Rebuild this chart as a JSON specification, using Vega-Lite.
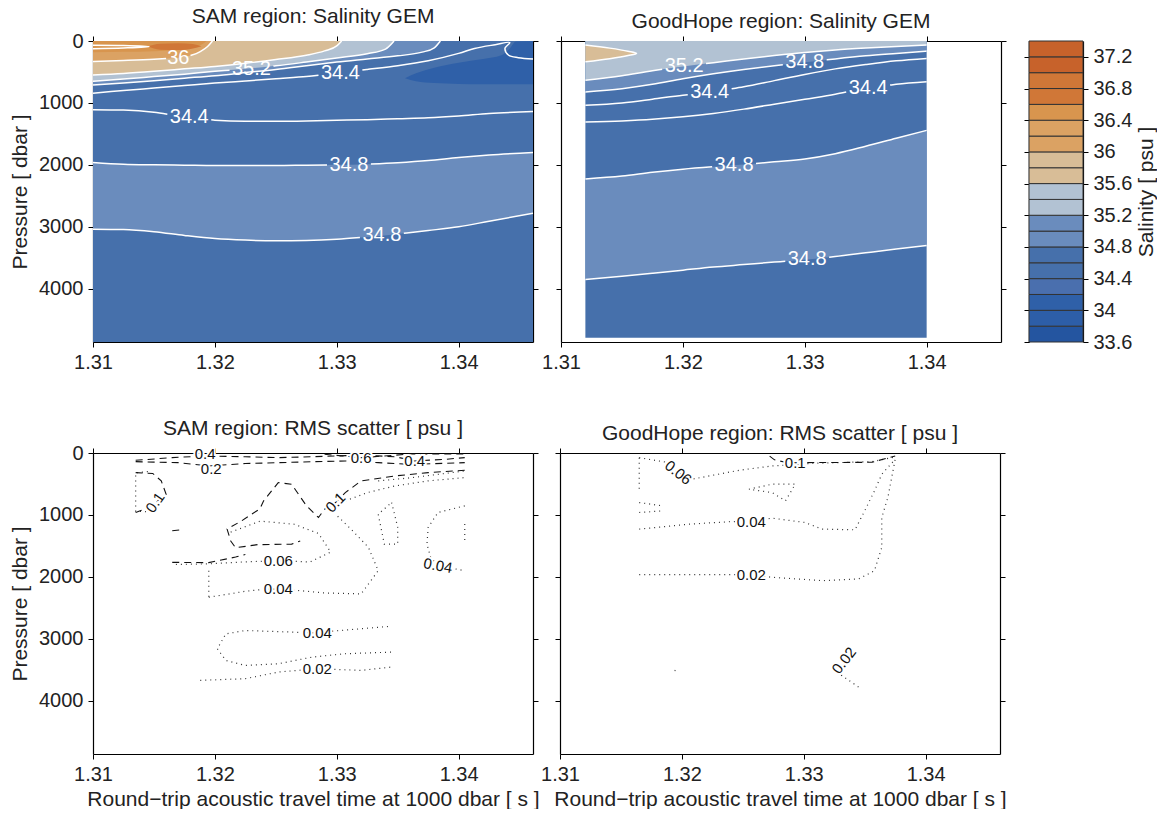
{
"$schema": "https://vega.github.io/schema/vega-lite/v6.json",
"background": "white",
"padding": {"left": 9, "top": 6, "right": 0, "bottom": 0},
"config": {
 "font": "Liberation Sans",
 "view": {"stroke": null},
 "axis": {"domainColor": "#000", "domainWidth": 1.2, "tickColor": "#000", "tickWidth": 1, "tickSize": 5, "labelFontSize": 20, "labelColor": "#222", "labelFont": "Liberation Sans", "titleFont": "Liberation Sans", "titleFontSize": 21, "titleFontWeight": "normal", "titleColor": "#222", "grid": false, "labelPadding": 5, "labelFlush": false, "labelOverlap": false},
 "title": {"fontSize": 21, "fontWeight": "normal", "color": "#222", "font": "Liberation Sans", "offset": 4},
 "text": {"font": "Liberation Sans"},
 "legend": {"disable": true}
},
"datasets": {
 "p1bg": [{"x":1.31,"p":0,"q":4860,"s":34.6},{"x":1.3461,"p":0,"q":4860,"s":34.6}],
 "p1deep": [
  {"x":1.31,"p":1960,"q":3040,"s":34.9},{"x":1.3125,"p":1990,"q":3045,"s":34.9},{"x":1.315,"p":2000,"q":3080,"s":34.9},{"x":1.3175,"p":2005,"q":3140,"s":34.9},{"x":1.32,"p":2010,"q":3190,"s":34.9},{"x":1.3225,"p":2010,"q":3215,"s":34.9},{"x":1.325,"p":2010,"q":3225,"s":34.9},{"x":1.3275,"p":2005,"q":3220,"s":34.9},{"x":1.33,"p":2000,"q":3200,"s":34.9},{"x":1.3325,"p":1990,"q":3165,"s":34.9},{"x":1.335,"p":1965,"q":3115,"s":34.9},{"x":1.3375,"p":1930,"q":3060,"s":34.9},{"x":1.34,"p":1880,"q":3000,"s":34.9},{"x":1.3425,"p":1840,"q":2910,"s":34.9},{"x":1.3461,"p":1800,"q":2780,"s":34.9}],
 "p1dark": [
  {"x":1.3356,"p":600,"q":600,"s":34.1},{"x":1.3365,"p":520,"q":650,"s":34.1},{"x":1.338,"p":430,"q":680,"s":34.1},{"x":1.34,"p":350,"q":695,"s":34.1},{"x":1.342,"p":290,"q":700,"s":34.1},{"x":1.3435,"p":230,"q":700,"s":34.1},{"x":1.3442,"p":120,"q":700,"s":34.1},{"x":1.3447,"p":10,"q":700,"s":34.1},{"x":1.3461,"p":0,"q":700,"s":34.1}],
 "p1tong": [
  {"c":"34.8","s":34.9,"x":1.31,"p":712},{"c":"34.8","s":34.9,"x":1.3125,"p":680},{"c":"34.8","s":34.9,"x":1.315,"p":640},{"c":"34.8","s":34.9,"x":1.3175,"p":600},{"c":"34.8","s":34.9,"x":1.32,"p":560},{"c":"34.8","s":34.9,"x":1.3225,"p":510},{"c":"34.8","s":34.9,"x":1.325,"p":460},{"c":"34.8","s":34.9,"x":1.3275,"p":400},{"c":"34.8","s":34.9,"x":1.33,"p":340},{"c":"34.8","s":34.9,"x":1.3325,"p":290},{"c":"34.8","s":34.9,"x":1.335,"p":240},{"c":"34.8","s":34.9,"x":1.337,"p":180},{"c":"34.8","s":34.9,"x":1.338,"p":110},{"c":"34.8","s":34.9,"x":1.3385,"p":0},
  {"c":"35.2","s":35.3,"x":1.31,"p":650},{"c":"35.2","s":35.3,"x":1.3125,"p":615},{"c":"35.2","s":35.3,"x":1.315,"p":575},{"c":"35.2","s":35.3,"x":1.3175,"p":535},{"c":"35.2","s":35.3,"x":1.32,"p":490},{"c":"35.2","s":35.3,"x":1.3225,"p":450},{"c":"35.2","s":35.3,"x":1.325,"p":400},{"c":"35.2","s":35.3,"x":1.3275,"p":340},{"c":"35.2","s":35.3,"x":1.33,"p":275},{"c":"35.2","s":35.3,"x":1.3325,"p":205},{"c":"35.2","s":35.3,"x":1.334,"p":130},{"c":"35.2","s":35.3,"x":1.3347,"p":0},
  {"c":"35.6","s":35.7,"x":1.31,"p":550},{"c":"35.6","s":35.7,"x":1.3125,"p":525},{"c":"35.6","s":35.7,"x":1.315,"p":490},{"c":"35.6","s":35.7,"x":1.3175,"p":450},{"c":"35.6","s":35.7,"x":1.32,"p":410},{"c":"35.6","s":35.7,"x":1.3225,"p":360},{"c":"35.6","s":35.7,"x":1.325,"p":300},{"c":"35.6","s":35.7,"x":1.3275,"p":230},{"c":"35.6","s":35.7,"x":1.329,"p":160},{"c":"35.6","s":35.7,"x":1.33,"p":80},{"c":"35.6","s":35.7,"x":1.3304,"p":0},
  {"c":"36.0","s":36.1,"x":1.31,"p":330},{"c":"36.0","s":36.1,"x":1.3125,"p":315},{"c":"36.0","s":36.1,"x":1.315,"p":295},{"c":"36.0","s":36.1,"x":1.317,"p":270},{"c":"36.0","s":36.1,"x":1.318,"p":235},{"c":"36.0","s":36.1,"x":1.3188,"p":170},{"c":"36.0","s":36.1,"x":1.3194,"p":90},{"c":"36.0","s":36.1,"x":1.3198,"p":0},
  {"c":"36.4","s":36.5,"x":1.31,"p":180},{"c":"36.4","s":36.5,"x":1.3125,"p":175},{"c":"36.4","s":36.5,"x":1.315,"p":165},{"c":"36.4","s":36.5,"x":1.317,"p":145},{"c":"36.4","s":36.5,"x":1.3182,"p":105},{"c":"36.4","s":36.5,"x":1.319,"p":50},{"c":"36.4","s":36.5,"x":1.3193,"p":0}],
 "p1blob": [{"x":1.3145,"p":90,"q":90,"s":36.9},{"x":1.3155,"p":45,"q":140,"s":36.9},{"x":1.317,"p":35,"q":145,"s":36.9},{"x":1.3182,"p":50,"q":120,"s":36.9},{"x":1.3189,"p":85,"q":85,"s":36.9}],
 "p1Lm": [
  {"id":"t348","x":1.31,"p":712},{"id":"t348","x":1.3125,"p":680},{"id":"t348","x":1.315,"p":640},{"id":"t348","x":1.3175,"p":600},{"id":"t348","x":1.32,"p":560},{"id":"t348","x":1.3225,"p":510},{"id":"t348","x":1.325,"p":460},{"id":"t348","x":1.3275,"p":400},{"id":"t348","x":1.33,"p":340},{"id":"t348","x":1.3325,"p":290},{"id":"t348","x":1.335,"p":240},{"id":"t348","x":1.337,"p":180},{"id":"t348","x":1.338,"p":110},{"id":"t348","x":1.3385,"p":0},
  {"id":"t352a","x":1.31,"p":650},{"id":"t352a","x":1.3125,"p":615},{"id":"t352a","x":1.315,"p":575},{"id":"t352a","x":1.3175,"p":535},{"id":"t352a","x":1.32,"p":490},{"id":"t352a","x":1.3212,"p":471},
  {"id":"t352b","x":1.3248,"p":404},{"id":"t352b","x":1.325,"p":400},{"id":"t352b","x":1.3275,"p":340},{"id":"t352b","x":1.33,"p":275},{"id":"t352b","x":1.3325,"p":205},{"id":"t352b","x":1.334,"p":130},{"id":"t352b","x":1.3347,"p":0},
  {"id":"t356","x":1.31,"p":550},{"id":"t356","x":1.3125,"p":525},{"id":"t356","x":1.315,"p":490},{"id":"t356","x":1.3175,"p":450},{"id":"t356","x":1.32,"p":410},{"id":"t356","x":1.3225,"p":360},{"id":"t356","x":1.325,"p":300},{"id":"t356","x":1.3275,"p":230},{"id":"t356","x":1.329,"p":160},{"id":"t356","x":1.33,"p":80},{"id":"t356","x":1.3304,"p":0},
  {"id":"t36a","x":1.31,"p":330},{"id":"t36a","x":1.3125,"p":315},{"id":"t36a","x":1.315,"p":295},{"id":"t36a","x":1.316,"p":283},
  {"id":"t36b","x":1.318,"p":235},{"id":"t36b","x":1.3188,"p":170},{"id":"t36b","x":1.3194,"p":90},{"id":"t36b","x":1.3198,"p":0},
  {"id":"d1a","x":1.31,"p":1960},{"id":"d1a","x":1.3125,"p":1990},{"id":"d1a","x":1.315,"p":2000},{"id":"d1a","x":1.3175,"p":2005},{"id":"d1a","x":1.32,"p":2010},{"id":"d1a","x":1.3225,"p":2010},{"id":"d1a","x":1.325,"p":2010},{"id":"d1a","x":1.3275,"p":2005},{"id":"d1a","x":1.3292,"p":2002},
  {"id":"d1b","x":1.3328,"p":1987},{"id":"d1b","x":1.335,"p":1965},{"id":"d1b","x":1.3375,"p":1930},{"id":"d1b","x":1.34,"p":1880},{"id":"d1b","x":1.3425,"p":1840},{"id":"d1b","x":1.3461,"p":1800},
  {"id":"d2a","x":1.31,"p":3040},{"id":"d2a","x":1.3125,"p":3045},{"id":"d2a","x":1.315,"p":3080},{"id":"d2a","x":1.3175,"p":3140},{"id":"d2a","x":1.32,"p":3190},{"id":"d2a","x":1.3225,"p":3215},{"id":"d2a","x":1.325,"p":3225},{"id":"d2a","x":1.3275,"p":3220},{"id":"d2a","x":1.33,"p":3200},{"id":"d2a","x":1.3319,"p":3173},
  {"id":"d2b","x":1.3355,"p":3104},{"id":"d2b","x":1.3375,"p":3060},{"id":"d2b","x":1.34,"p":3000},{"id":"d2b","x":1.3425,"p":2910},{"id":"d2b","x":1.3461,"p":2780},
  {"id":"la","x":1.31,"p":1110},{"id":"la","x":1.3125,"p":1115},{"id":"la","x":1.315,"p":1150},{"id":"la","x":1.3161,"p":1181},
  {"id":"lb","x":1.3197,"p":1273},{"id":"lb","x":1.32,"p":1280},{"id":"lb","x":1.3225,"p":1295},{"id":"lb","x":1.325,"p":1295},{"id":"lb","x":1.3275,"p":1290},{"id":"lb","x":1.33,"p":1280},{"id":"lb","x":1.3325,"p":1270},{"id":"lb","x":1.335,"p":1255},{"id":"lb","x":1.3375,"p":1240},{"id":"lb","x":1.34,"p":1210},{"id":"lb","x":1.3425,"p":1170},{"id":"lb","x":1.3461,"p":1140}],
 "p1Lc": [
  {"id":"ua","x":1.31,"p":842},{"id":"ua","x":1.3125,"p":800},{"id":"ua","x":1.315,"p":760},{"id":"ua","x":1.3175,"p":720},{"id":"ua","x":1.32,"p":680},{"id":"ua","x":1.3225,"p":645},{"id":"ua","x":1.325,"p":610},{"id":"ua","x":1.3275,"p":575},{"id":"ua","x":1.3285,"p":553},
  {"id":"ub","x":1.3321,"p":470},{"id":"ub","x":1.3325,"p":460},{"id":"ub","x":1.335,"p":400},{"id":"ub","x":1.3375,"p":320},{"id":"ub","x":1.34,"p":200},{"id":"ub","x":1.3413,"p":120},{"id":"ub","x":1.343,"p":60},{"id":"ub","x":1.3442,"p":25},{"id":"ub","x":1.3438,"p":120},{"id":"ub","x":1.3441,"p":230},{"id":"ub","x":1.3449,"p":270},{"id":"ub","x":1.3461,"p":290},
  {"id":"s","x":1.31,"p":70},{"id":"s","x":1.3125,"p":74},{"id":"s","x":1.3146,"p":92},{"id":"s","x":1.3125,"p":112},{"id":"s","x":1.31,"p":124}],
 "p1lab": [{"x":1.317,"p":270,"t":"36"},{"x":1.323,"p":450,"t":"35.2"},{"x":1.3303,"p":520,"t":"34.4"},{"x":1.3179,"p":1230,"t":"34.4"},{"x":1.331,"p":1995,"t":"34.8"},{"x":1.3337,"p":3140,"t":"34.8"}],
 "p2bg": [{"x":1.312,"p":0,"q":4790,"s":34.6},{"x":1.34,"p":0,"q":4790,"s":34.6}],
 "p2deep": [
  {"x":1.312,"p":2227,"q":3850,"s":34.9},{"x":1.315,"p":2180,"q":3800,"s":34.9},{"x":1.3175,"p":2120,"q":3750,"s":34.9},{"x":1.32,"p":2070,"q":3700,"s":34.9},{"x":1.3225,"p":2030,"q":3650,"s":34.9},{"x":1.325,"p":1995,"q":3610,"s":34.9},{"x":1.3275,"p":1950,"q":3570,"s":34.9},{"x":1.33,"p":1905,"q":3530,"s":34.9},{"x":1.3325,"p":1820,"q":3480,"s":34.9},{"x":1.335,"p":1700,"q":3420,"s":34.9},{"x":1.3375,"p":1570,"q":3360,"s":34.9},{"x":1.34,"p":1443,"q":3300,"s":34.9}],
 "p2t": [
  {"c":"34.8","s":34.9,"x":1.312,"p":822},{"c":"34.8","s":34.9,"x":1.315,"p":770},{"c":"34.8","s":34.9,"x":1.3175,"p":700},{"c":"34.8","s":34.9,"x":1.32,"p":610},{"c":"34.8","s":34.9,"x":1.3225,"p":530},{"c":"34.8","s":34.9,"x":1.325,"p":460},{"c":"34.8","s":34.9,"x":1.3275,"p":400},{"c":"34.8","s":34.9,"x":1.33,"p":345},{"c":"34.8","s":34.9,"x":1.3325,"p":290},{"c":"34.8","s":34.9,"x":1.335,"p":240},{"c":"34.8","s":34.9,"x":1.3375,"p":200},{"c":"34.8","s":34.9,"x":1.34,"p":162},
  {"c":"35.2","s":35.3,"x":1.312,"p":632},{"c":"35.2","s":35.3,"x":1.315,"p":560},{"c":"35.2","s":35.3,"x":1.3175,"p":480},{"c":"35.2","s":35.3,"x":1.32,"p":410},{"c":"35.2","s":35.3,"x":1.3225,"p":350},{"c":"35.2","s":35.3,"x":1.325,"p":290},{"c":"35.2","s":35.3,"x":1.3275,"p":235},{"c":"35.2","s":35.3,"x":1.33,"p":185},{"c":"35.2","s":35.3,"x":1.3325,"p":145},{"c":"35.2","s":35.3,"x":1.335,"p":115},{"c":"35.2","s":35.3,"x":1.3375,"p":90},{"c":"35.2","s":35.3,"x":1.34,"p":65}],
 "p2sliver": [{"x":1.312,"p":65,"q":335,"s":35.7},{"x":1.314,"p":115,"q":285,"s":35.7},{"x":1.3155,"p":165,"q":235,"s":35.7},{"x":1.3162,"p":200,"q":200,"s":35.7}],
 "p2Lm": [
  {"id":"t348a","x":1.312,"p":822},{"id":"t348a","x":1.315,"p":770},{"id":"t348a","x":1.3175,"p":700},{"id":"t348a","x":1.32,"p":610},{"id":"t348a","x":1.3225,"p":530},{"id":"t348a","x":1.325,"p":460},{"id":"t348a","x":1.3275,"p":400},{"id":"t348a","x":1.3282,"p":385},
  {"id":"t348b","x":1.3318,"p":305},{"id":"t348b","x":1.3325,"p":290},{"id":"t348b","x":1.335,"p":240},{"id":"t348b","x":1.3375,"p":200},{"id":"t348b","x":1.34,"p":162},
  {"id":"t352a","x":1.312,"p":632},{"id":"t352a","x":1.315,"p":560},{"id":"t352a","x":1.3175,"p":480},{"id":"t352a","x":1.3183,"p":458},
  {"id":"t352b","x":1.3219,"p":364},{"id":"t352b","x":1.3225,"p":350},{"id":"t352b","x":1.325,"p":290},{"id":"t352b","x":1.3275,"p":235},{"id":"t352b","x":1.33,"p":185},{"id":"t352b","x":1.3325,"p":145},{"id":"t352b","x":1.335,"p":115},{"id":"t352b","x":1.3375,"p":90},{"id":"t352b","x":1.34,"p":65},
  {"id":"ua","x":1.312,"p":1038},{"id":"ua","x":1.315,"p":1000},{"id":"ua","x":1.3175,"p":940},{"id":"ua","x":1.32,"p":875},{"id":"ua","x":1.3204,"p":867},
  {"id":"ub","x":1.324,"p":773},{"id":"ub","x":1.325,"p":740},{"id":"ub","x":1.3275,"p":640},{"id":"ub","x":1.33,"p":540},{"id":"ub","x":1.3325,"p":450},{"id":"ub","x":1.335,"p":380},{"id":"ub","x":1.3375,"p":320},{"id":"ub","x":1.34,"p":281},
  {"id":"la","x":1.312,"p":1308},{"id":"la","x":1.315,"p":1290},{"id":"la","x":1.3175,"p":1265},{"id":"la","x":1.32,"p":1225},{"id":"la","x":1.3225,"p":1170},{"id":"la","x":1.325,"p":1100},{"id":"la","x":1.3275,"p":1020},{"id":"la","x":1.33,"p":940},{"id":"la","x":1.3325,"p":860},{"id":"la","x":1.3334,"p":824},
  {"id":"lb","x":1.337,"p":712},{"id":"lb","x":1.3375,"p":700},{"id":"lb","x":1.34,"p":659},
  {"id":"d1a","x":1.312,"p":2227},{"id":"d1a","x":1.315,"p":2180},{"id":"d1a","x":1.3175,"p":2120},{"id":"d1a","x":1.32,"p":2070},{"id":"d1a","x":1.3224,"p":2032},
  {"id":"d1b","x":1.326,"p":1977},{"id":"d1b","x":1.3275,"p":1950},{"id":"d1b","x":1.33,"p":1905},{"id":"d1b","x":1.3325,"p":1820},{"id":"d1b","x":1.335,"p":1700},{"id":"d1b","x":1.3375,"p":1570},{"id":"d1b","x":1.34,"p":1443},
  {"id":"d2a","x":1.312,"p":3850},{"id":"d2a","x":1.315,"p":3800},{"id":"d2a","x":1.3175,"p":3750},{"id":"d2a","x":1.32,"p":3700},{"id":"d2a","x":1.3225,"p":3650},{"id":"d2a","x":1.325,"p":3610},{"id":"d2a","x":1.3275,"p":3570},{"id":"d2a","x":1.3284,"p":3556},
  {"id":"d2b","x":1.332,"p":3490},{"id":"d2b","x":1.3325,"p":3480},{"id":"d2b","x":1.335,"p":3420},{"id":"d2b","x":1.3375,"p":3360},{"id":"d2b","x":1.34,"p":3300}],
 "p2Lc": [
  {"id":"sl","x":1.312,"p":65},{"id":"sl","x":1.314,"p":115},{"id":"sl","x":1.3155,"p":165},{"id":"sl","x":1.3162,"p":200},{"id":"sl","x":1.3155,"p":235},{"id":"sl","x":1.314,"p":285},{"id":"sl","x":1.312,"p":335}],
 "p2lab": [{"x":1.3201,"p":405,"t":"35.2"},{"x":1.33,"p":345,"t":"34.8"},{"x":1.3222,"p":822,"t":"34.4"},{"x":1.3352,"p":755,"t":"34.4"},{"x":1.3242,"p":2006,"t":"34.8"},{"x":1.3302,"p":3526,"t":"34.8"}],
 "cb": [{"lo":33.6,"hi":33.8},{"lo":33.8,"hi":34},{"lo":34,"hi":34.2},{"lo":34.2,"hi":34.4},{"lo":34.4,"hi":34.6},{"lo":34.6,"hi":34.8},{"lo":34.8,"hi":35},{"lo":35,"hi":35.2},{"lo":35.2,"hi":35.4},{"lo":35.4,"hi":35.6},{"lo":35.6,"hi":35.8},{"lo":35.8,"hi":36},{"lo":36,"hi":36.2},{"lo":36.2,"hi":36.4},{"lo":36.4,"hi":36.6},{"lo":36.6,"hi":36.8},{"lo":36.8,"hi":37},{"lo":37,"hi":37.2},{"lo":37.2,"hi":37.4}],
 "p3": [
  {"id":"a","lev":0.2,"x":1.3135,"p":140},{"id":"a","lev":0.2,"x":1.317,"p":156},{"id":"a","lev":0.2,"x":1.3195,"p":209},{"id":"a","lev":0.2,"x":1.3225,"p":170},{"id":"a","lev":0.2,"x":1.3252,"p":156},{"id":"a","lev":0.2,"x":1.328,"p":140},{"id":"a","lev":0.2,"x":1.3307,"p":129},{"id":"a","lev":0.2,"x":1.3334,"p":156},{"id":"a","lev":0.2,"x":1.3361,"p":183},{"id":"a","lev":0.2,"x":1.3405,"p":156},
  {"id":"b","lev":0.4,"x":1.3135,"p":118},{"id":"b","lev":0.4,"x":1.3165,"p":75},{"id":"b","lev":0.4,"x":1.3192,"p":48},{"id":"b","lev":0.4,"x":1.3225,"p":60},{"id":"b","lev":0.4,"x":1.3252,"p":75},{"id":"b","lev":0.4,"x":1.328,"p":60},{"id":"b","lev":0.4,"x":1.33,"p":48},{"id":"b","lev":0.4,"x":1.332,"p":35},{"id":"b","lev":0.4,"x":1.3348,"p":60},{"id":"b","lev":0.4,"x":1.3364,"p":129},{"id":"b","lev":0.4,"x":1.3389,"p":102},{"id":"b","lev":0.4,"x":1.3405,"p":75},
  {"id":"c","lev":0.6,"x":1.329,"p":21},{"id":"c","lev":0.6,"x":1.332,"p":75},{"id":"c","lev":0.6,"x":1.3348,"p":35},{"id":"c","lev":0.6,"x":1.3361,"p":15},{"id":"c","lev":0.6,"x":1.3405,"p":15},
  {"id":"d","lev":0.1,"x":1.3135,"p":317},{"id":"d","lev":0.1,"x":1.3149,"p":330},{"id":"d","lev":0.1,"x":1.3156,"p":451},{"id":"d","lev":0.1,"x":1.316,"p":665},{"id":"d","lev":0.1,"x":1.3151,"p":800},{"id":"d","lev":0.1,"x":1.3143,"p":900},{"id":"d","lev":0.1,"x":1.3135,"p":961},
  {"id":"e","lev":0.1,"x":1.3405,"p":279},{"id":"e","lev":0.1,"x":1.3375,"p":317},{"id":"e","lev":0.1,"x":1.3348,"p":370},{"id":"e","lev":0.1,"x":1.332,"p":451},{"id":"e","lev":0.1,"x":1.3307,"p":639},{"id":"e","lev":0.1,"x":1.3299,"p":800},{"id":"e","lev":0.1,"x":1.329,"p":907},{"id":"e","lev":0.1,"x":1.3285,"p":1041},{"id":"e","lev":0.1,"x":1.3275,"p":850},{"id":"e","lev":0.1,"x":1.3263,"p":505},{"id":"e","lev":0.1,"x":1.3252,"p":478},{"id":"e","lev":0.1,"x":1.324,"p":773},{"id":"e","lev":0.1,"x":1.3237,"p":900},{"id":"e","lev":0.1,"x":1.3222,"p":1095},{"id":"e","lev":0.1,"x":1.321,"p":1229},{"id":"e","lev":0.1,"x":1.3213,"p":1420},{"id":"e","lev":0.1,"x":1.3217,"p":1530},{"id":"e","lev":0.1,"x":1.3235,"p":1480},{"id":"e","lev":0.1,"x":1.3263,"p":1471},{"id":"e","lev":0.1,"x":1.327,"p":1420},
  {"id":"f","lev":0.1,"x":1.3165,"p":1766},{"id":"f","lev":0.1,"x":1.3195,"p":1770},{"id":"f","lev":0.1,"x":1.3217,"p":1680},{"id":"f","lev":0.1,"x":1.3225,"p":1640},
  {"id":"g","lev":0.1,"x":1.3165,"p":1256},{"id":"g","lev":0.1,"x":1.3172,"p":1240},
  {"id":"h","lev":0.05,"x":1.3145,"p":300},{"id":"h","lev":0.05,"x":1.3135,"p":320},{"id":"h","lev":0.05,"x":1.3135,"p":940},{"id":"h","lev":0.05,"x":1.3145,"p":950},
  {"id":"i","lev":0.08,"x":1.3334,"p":451},{"id":"i","lev":0.08,"x":1.3361,"p":400},{"id":"i","lev":0.08,"x":1.3389,"p":330},{"id":"i","lev":0.08,"x":1.3405,"p":290},
  {"id":"j","lev":0.08,"x":1.3307,"p":773},{"id":"j","lev":0.08,"x":1.3325,"p":640},{"id":"j","lev":0.08,"x":1.3348,"p":531},{"id":"j","lev":0.08,"x":1.3375,"p":450},{"id":"j","lev":0.08,"x":1.3405,"p":397},
  {"id":"k","lev":0.06,"x":1.3345,"p":800},{"id":"k","lev":0.06,"x":1.335,"p":1200},{"id":"k","lev":0.06,"x":1.335,"p":1471},{"id":"k","lev":0.06,"x":1.3339,"p":1471},{"id":"k","lev":0.06,"x":1.3334,"p":988},{"id":"k","lev":0.06,"x":1.3345,"p":800},
  {"id":"l","lev":0.06,"x":1.3168,"p":1800},{"id":"l","lev":0.06,"x":1.3195,"p":1790},{"id":"l","lev":0.06,"x":1.3222,"p":1760},{"id":"l","lev":0.06,"x":1.3252,"p":1739},{"id":"l","lev":0.06,"x":1.3278,"p":1760},{"id":"l","lev":0.06,"x":1.3295,"p":1600},{"id":"l","lev":0.06,"x":1.3285,"p":1300},{"id":"l","lev":0.06,"x":1.3265,"p":1150},{"id":"l","lev":0.06,"x":1.3237,"p":1100},{"id":"l","lev":0.06,"x":1.321,"p":1300},
  {"id":"m","lev":0.04,"x":1.3195,"p":2329},{"id":"m","lev":0.04,"x":1.3225,"p":2233},{"id":"m","lev":0.04,"x":1.3241,"p":2200},{"id":"m","lev":0.04,"x":1.3252,"p":2195},{"id":"m","lev":0.04,"x":1.3263,"p":2210},{"id":"m","lev":0.04,"x":1.329,"p":2260},{"id":"m","lev":0.04,"x":1.332,"p":2275},{"id":"m","lev":0.04,"x":1.3334,"p":1900},{"id":"m","lev":0.04,"x":1.3326,"p":1524},{"id":"m","lev":0.04,"x":1.3313,"p":1256},{"id":"m","lev":0.04,"x":1.3299,"p":988},
  {"id":"n","lev":0.04,"x":1.3195,"p":1900},{"id":"n","lev":0.04,"x":1.3195,"p":2329},
  {"id":"o","lev":0.04,"x":1.3405,"p":853},{"id":"o","lev":0.04,"x":1.3383,"p":961},{"id":"o","lev":0.04,"x":1.3375,"p":1202},{"id":"o","lev":0.04,"x":1.3374,"p":1471},{"id":"o","lev":0.04,"x":1.3377,"p":1686},{"id":"o","lev":0.04,"x":1.3383,"p":1820},{"id":"o","lev":0.04,"x":1.3405,"p":1900},
  {"id":"o2","lev":0.04,"x":1.3405,"p":1148},{"id":"o2","lev":0.04,"x":1.3405,"p":1443},
  {"id":"pp","lev":0.04,"x":1.3342,"p":2801},{"id":"pp","lev":0.04,"x":1.328,"p":2903},{"id":"pp","lev":0.04,"x":1.3225,"p":2866},{"id":"pp","lev":0.04,"x":1.3209,"p":2920},{"id":"pp","lev":0.04,"x":1.3202,"p":3161},{"id":"pp","lev":0.04,"x":1.3209,"p":3349},{"id":"pp","lev":0.04,"x":1.3225,"p":3430},{"id":"pp","lev":0.04,"x":1.3252,"p":3403},{"id":"pp","lev":0.04,"x":1.328,"p":3295},{"id":"pp","lev":0.04,"x":1.3307,"p":3241},{"id":"pp","lev":0.04,"x":1.3345,"p":3215},
  {"id":"q","lev":0.02,"x":1.3188,"p":3671},{"id":"q","lev":0.02,"x":1.3225,"p":3644},{"id":"q","lev":0.02,"x":1.3252,"p":3537},{"id":"q","lev":0.02,"x":1.3284,"p":3483},{"id":"q","lev":0.02,"x":1.332,"p":3510},{"id":"q","lev":0.02,"x":1.3345,"p":3456}],
 "p3lab": [{"x":1.3192,"p":15,"t":"0.4"},{"x":1.3197,"p":255,"t":"0.2"},{"x":1.332,"p":75,"t":"0.6"},{"x":1.3364,"p":129,"t":"0.4"},{"x":1.3252,"p":1739,"t":"0.06"},{"x":1.3252,"p":2195,"t":"0.04"},{"x":1.3284,"p":2903,"t":"0.04"},{"x":1.3284,"p":3483,"t":"0.02"}],
 "p4": [
  {"id":"a","lev":0.1,"x":1.3272,"p":50},{"id":"a","lev":0.1,"x":1.3276,"p":110},{"id":"a","lev":0.1,"x":1.3285,"p":150},{"id":"a","lev":0.1,"x":1.3293,"p":156},
  {"id":"b","lev":0.1,"x":1.3293,"p":156},{"id":"b","lev":0.1,"x":1.3356,"p":150},{"id":"b","lev":0.1,"x":1.3375,"p":48},
  {"id":"c","lev":0.06,"x":1.3165,"p":75},{"id":"c","lev":0.06,"x":1.3186,"p":145},{"id":"c","lev":0.06,"x":1.3197,"p":317},{"id":"c","lev":0.06,"x":1.3208,"p":424},{"id":"c","lev":0.06,"x":1.3247,"p":279},{"id":"c","lev":0.06,"x":1.3274,"p":209},{"id":"c","lev":0.06,"x":1.3309,"p":166},{"id":"c","lev":0.06,"x":1.3356,"p":140},{"id":"c","lev":0.06,"x":1.3375,"p":64},
  {"id":"d","lev":0.06,"x":1.3165,"p":75},{"id":"d","lev":0.06,"x":1.3165,"p":585},
  {"id":"e","lev":0.05,"x":1.3165,"p":800},{"id":"e","lev":0.05,"x":1.3184,"p":853},
  {"id":"e2","lev":0.05,"x":1.3165,"p":961},{"id":"e2","lev":0.05,"x":1.3184,"p":934},
  {"id":"f","lev":0.05,"x":1.3255,"p":585},{"id":"f","lev":0.05,"x":1.3274,"p":504},{"id":"f","lev":0.05,"x":1.3293,"p":504},{"id":"f","lev":0.05,"x":1.3285,"p":773},{"id":"f","lev":0.05,"x":1.3274,"p":639},{"id":"f","lev":0.05,"x":1.3255,"p":585},
  {"id":"g","lev":0.04,"x":1.3165,"p":1229},{"id":"g","lev":0.04,"x":1.3206,"p":1149},{"id":"g","lev":0.04,"x":1.3241,"p":1107},{"id":"g","lev":0.04,"x":1.3255,"p":1107},{"id":"g","lev":0.04,"x":1.3274,"p":1052},{"id":"g","lev":0.04,"x":1.3301,"p":1122},{"id":"g","lev":0.04,"x":1.3315,"p":1229},{"id":"g","lev":0.04,"x":1.3342,"p":1240},{"id":"g","lev":0.04,"x":1.335,"p":934},{"id":"g","lev":0.04,"x":1.3358,"p":612},{"id":"g","lev":0.04,"x":1.3364,"p":344},{"id":"g","lev":0.04,"x":1.3375,"p":102},
  {"id":"h","lev":0.02,"x":1.3165,"p":1964},{"id":"h","lev":0.02,"x":1.3241,"p":1964},{"id":"h","lev":0.02,"x":1.3255,"p":1964},{"id":"h","lev":0.02,"x":1.3274,"p":2007},{"id":"h","lev":0.02,"x":1.3315,"p":2061},{"id":"h","lev":0.02,"x":1.3345,"p":2034},{"id":"h","lev":0.02,"x":1.3358,"p":1900},{"id":"h","lev":0.02,"x":1.3364,"p":1524},{"id":"h","lev":0.02,"x":1.3364,"p":1041},{"id":"h","lev":0.02,"x":1.3369,"p":719},{"id":"h","lev":0.02,"x":1.3375,"p":102},
  {"id":"i","lev":0.02,"x":1.3194,"p":3510},{"id":"i","lev":0.02,"x":1.3197,"p":3530},
  {"id":"j","lev":0.02,"x":1.3342,"p":3215},{"id":"j","lev":0.02,"x":1.3336,"p":3300},{"id":"j","lev":0.02,"x":1.333,"p":3400},{"id":"j","lev":0.02,"x":1.3331,"p":3590},{"id":"j","lev":0.02,"x":1.3345,"p":3780}],
 "p4lab": [{"x":1.3293,"p":156,"t":"0.1"},{"x":1.3257,"p":1107,"t":"0.04"},{"x":1.3257,"p":1964,"t":"0.02"}]
},
"bounds": "flush",
"spacing": 412,
"vconcat": [
 {"hconcat": [
  {"width": 440, "height": 301, "title": "SAM region: Salinity GEM",
   "resolve": {"axis": {"x": "independent", "y": "independent"}},
   "encoding": {
    "x": {"field": "x", "type": "quantitative", "scale": {"domain": [1.31, 1.3461], "nice": false, "zero": false}, "axis": null},
    "y": {"field": "p", "type": "quantitative", "scale": {"domain": [0, 4860], "reverse": true, "nice": false, "zero": false}, "axis": null},
    "color": {"field": "s", "type": "quantitative", "scale": {"type": "threshold", "domain": [33.8,34,34.2,34.4,34.6,34.8,35,35.2,35.4,35.6,35.8,36,36.2,36.4,36.6,36.8,37,37.2], "range": ["#2455a0","#2d5ea8","#2f60a8","#4a6fae","#4670ab","#4670ab","#6a8cbd","#6a8cbd","#b2c2d3","#b2c2d3","#d8bd97","#d8bd97","#dba263","#dba263","#d8954e","#d07737","#d07737","#c7622b","#c7622b"]}}
   },
   "layer": [
    {"data": {"name": "p1bg"}, "mark": {"type": "area"},
     "encoding": {
      "x": {"field": "x", "type": "quantitative", "scale": {"domain": [1.31, 1.3461], "nice": false, "zero": false}, "axis": {"orient": "bottom", "values": [1.31, 1.32, 1.33, 1.34], "format": ".2f", "title": null}},
      "y": {"field": "p", "type": "quantitative", "scale": {"domain": [0, 4860], "reverse": true, "nice": false, "zero": false}, "axis": {"orient": "left", "values": [0, 1000, 2000, 3000, 4000], "format": "d", "title": "Pressure [ dbar ]", "titlePadding": 8}},
      "y2": {"field": "q"}}},
    {"data": {"name": "p1deep"}, "mark": {"type": "area", "interpolate": "monotone"}, "encoding": {"y2": {"field": "q"}}},
    {"data": {"name": "p1dark"}, "mark": {"type": "area", "interpolate": "monotone"}, "encoding": {"y2": {"field": "q"}}},
    {"data": {"name": "p1tong"}, "transform": [{"filter": "datum.c == '34.8'"}], "mark": {"type": "area", "interpolate": "monotone"}, "encoding": {"y2": {"datum": 0}}},
    {"data": {"name": "p1tong"}, "transform": [{"filter": "datum.c == '35.2'"}], "mark": {"type": "area", "interpolate": "monotone"}, "encoding": {"y2": {"datum": 0}}},
    {"data": {"name": "p1tong"}, "transform": [{"filter": "datum.c == '35.6'"}], "mark": {"type": "area", "interpolate": "monotone"}, "encoding": {"y2": {"datum": 0}}},
    {"data": {"name": "p1tong"}, "transform": [{"filter": "datum.c == '36.0'"}], "mark": {"type": "area", "interpolate": "monotone"}, "encoding": {"y2": {"datum": 0}}},
    {"data": {"name": "p1tong"}, "transform": [{"filter": "datum.c == '36.4'"}], "mark": {"type": "area", "interpolate": "monotone"}, "encoding": {"y2": {"datum": 0}}},
    {"data": {"name": "p1blob"}, "mark": {"type": "area", "interpolate": "monotone"}, "encoding": {"y2": {"field": "q"}}},
    {"data": {"name": "p1Lm"}, "mark": {"type": "line", "interpolate": "monotone", "strokeWidth": 1.5},
     "encoding": {
      "x": {"field": "x", "type": "quantitative", "scale": {"domain": [1.31, 1.3461], "nice": false, "zero": false}, "axis": {"orient": "top", "values": [1.31, 1.32, 1.33, 1.34], "labels": false, "title": null}},
      "y": {"field": "p", "type": "quantitative", "scale": {"domain": [0, 4860], "reverse": true, "nice": false, "zero": false}, "axis": {"orient": "right", "values": [0, 1000, 2000, 3000, 4000], "labels": false, "title": null}},
      "color": {"value": "white"},
      "detail": {"field": "id"}, "order": {"value": null}}},
    {"data": {"name": "p1Lc"}, "mark": {"type": "line", "interpolate": "catmull-rom", "strokeWidth": 1.5}, "encoding": {"color": {"value": "white"}, "detail": {"field": "id"}, "order": {"value": null}}},
    {"data": {"name": "p1lab"}, "mark": {"type": "text", "fontSize": 20}, "encoding": {"text": {"field": "t"}, "color": {"value": "white"}}}
   ]},
  {"width": 440, "height": 301, "title": "GoodHope region: Salinity GEM",
   "resolve": {"axis": {"x": "independent", "y": "independent"}},
   "encoding": {
    "x": {"field": "x", "type": "quantitative", "scale": {"domain": [1.31, 1.3461], "nice": false, "zero": false}, "axis": null},
    "y": {"field": "p", "type": "quantitative", "scale": {"domain": [0, 4860], "reverse": true, "nice": false, "zero": false}, "axis": null},
    "color": {"field": "s", "type": "quantitative", "scale": {"type": "threshold", "domain": [33.8,34,34.2,34.4,34.6,34.8,35,35.2,35.4,35.6,35.8,36,36.2,36.4,36.6,36.8,37,37.2], "range": ["#2455a0","#2d5ea8","#2f60a8","#4a6fae","#4670ab","#4670ab","#6a8cbd","#6a8cbd","#b2c2d3","#b2c2d3","#d8bd97","#d8bd97","#dba263","#dba263","#d8954e","#d07737","#d07737","#c7622b","#c7622b"]}}
   },
   "layer": [
    {"data": {"name": "p2bg"}, "mark": {"type": "area"},
     "encoding": {
      "x": {"field": "x", "type": "quantitative", "scale": {"domain": [1.31, 1.3461], "nice": false, "zero": false}, "axis": {"orient": "bottom", "values": [1.31, 1.32, 1.33, 1.34], "format": ".2f", "title": null}},
      "y": {"field": "p", "type": "quantitative", "scale": {"domain": [0, 4860], "reverse": true, "nice": false, "zero": false}, "axis": {"orient": "left", "values": [0, 1000, 2000, 3000, 4000], "labels": false, "title": null}},
      "y2": {"field": "q"}}},
    {"data": {"name": "p2deep"}, "mark": {"type": "area", "interpolate": "monotone"}, "encoding": {"y2": {"field": "q"}}},
    {"data": {"name": "p2t"}, "transform": [{"filter": "datum.c == '34.8'"}], "mark": {"type": "area", "interpolate": "monotone"}, "encoding": {"y2": {"datum": 0}}},
    {"data": {"name": "p2t"}, "transform": [{"filter": "datum.c == '35.2'"}], "mark": {"type": "area", "interpolate": "monotone"}, "encoding": {"y2": {"datum": 0}}},
    {"data": {"name": "p2sliver"}, "mark": {"type": "area", "interpolate": "monotone"}, "encoding": {"y2": {"field": "q"}}},
    {"data": {"name": "p2Lm"}, "mark": {"type": "line", "interpolate": "monotone", "strokeWidth": 1.5},
     "encoding": {
      "x": {"field": "x", "type": "quantitative", "scale": {"domain": [1.31, 1.3461], "nice": false, "zero": false}, "axis": {"orient": "top", "values": [1.31, 1.32, 1.33, 1.34], "labels": false, "title": null}},
      "y": {"field": "p", "type": "quantitative", "scale": {"domain": [0, 4860], "reverse": true, "nice": false, "zero": false}, "axis": {"orient": "right", "values": [0, 1000, 2000, 3000, 4000], "labels": false, "title": null}},
      "color": {"value": "white"},
      "detail": {"field": "id"}, "order": {"value": null}}},
    {"data": {"name": "p2Lc"}, "mark": {"type": "line", "interpolate": "catmull-rom", "strokeWidth": 1.5}, "encoding": {"color": {"value": "white"}, "detail": {"field": "id"}, "order": {"value": null}}},
    {"data": {"name": "p2lab"}, "mark": {"type": "text", "fontSize": 20}, "encoding": {"text": {"field": "t"}, "color": {"value": "white"}}}
   ]},
  {"width": 54, "height": 301, "data": {"name": "cb"},
   "resolve": {"axis": {"y": "independent"}},
   "encoding": {
    "x": {"datum": 0, "type": "quantitative", "scale": {"domain": [0, 1], "nice": false, "zero": false}, "axis": null},
    "x2": {"datum": 1}
   },
   "layer": [
    {"mark": {"type": "rect", "stroke": "#333", "strokeWidth": 1},
     "encoding": {
      "y": {"field": "lo", "type": "quantitative", "scale": {"domain": [33.6, 37.4], "nice": false, "zero": false}, "axis": {"orient": "right", "values": [33.6, 34, 34.4, 34.8, 35.2, 35.6, 36, 36.4, 36.8, 37.2], "format": "~g", "title": "Salinity [ psu ]", "titleAngle": 270, "titleBaseline": "top", "titlePadding": 4}},
      "y2": {"field": "hi"},
      "color": {"field": "lo", "type": "quantitative", "scale": {"type": "threshold", "domain": [33.8,34,34.2,34.4,34.6,34.8,35,35.2,35.4,35.6,35.8,36,36.2,36.4,36.6,36.8,37,37.2], "range": ["#2455a0","#2d5ea8","#2f60a8","#4a6fae","#4670ab","#4670ab","#6a8cbd","#6a8cbd","#b2c2d3","#b2c2d3","#d8bd97","#d8bd97","#dba263","#dba263","#d8954e","#d07737","#d07737","#c7622b","#c7622b"]}}}},
    {"mark": {"type": "rect", "opacity": 0},
     "encoding": {
      "y": {"field": "lo", "type": "quantitative", "scale": {"domain": [33.6, 37.4], "nice": false, "zero": false}, "axis": {"orient": "left", "values": [33.6, 34, 34.4, 34.8, 35.2, 35.6, 36, 36.4, 36.8, 37.2], "labels": false, "title": null}},
      "y2": {"field": "hi"}}}
   ]}
 ], "spacing": 28, "bounds": "flush"},
 {"hconcat": [
  {"width": 440, "height": 301, "title": "SAM region: RMS scatter [ psu ]", "data": {"name": "p3"},
   "resolve": {"axis": {"x": "independent", "y": "independent"}},
   "encoding": {
    "x": {"field": "x", "type": "quantitative", "scale": {"domain": [1.31, 1.3461], "nice": false, "zero": false}, "axis": null},
    "y": {"field": "p", "type": "quantitative", "scale": {"domain": [0, 4860], "reverse": true, "nice": false, "zero": false}, "axis": null}
   },
   "layer": [
    {"transform": [{"filter": "datum.lev < 0.1"}], "mark": {"type": "line", "color": "#333", "strokeWidth": 1.2, "strokeDash": [1, 4]},
     "encoding": {
      "x": {"field": "x", "type": "quantitative", "scale": {"domain": [1.31, 1.3461], "nice": false, "zero": false}, "axis": {"orient": "bottom", "values": [1.31, 1.32, 1.33, 1.34], "format": ".2f", "title": "Round−trip acoustic travel time at 1000 dbar [ s ]", "titlePadding": 4}},
      "y": {"field": "p", "type": "quantitative", "scale": {"domain": [0, 4860], "reverse": true, "nice": false, "zero": false}, "axis": {"orient": "left", "values": [0, 1000, 2000, 3000, 4000], "format": "d", "title": "Pressure [ dbar ]", "titlePadding": 8}},
      "detail": {"field": "id"}, "order": {"value": null}}},
    {"transform": [{"filter": "datum.lev >= 0.1"}], "mark": {"type": "line", "color": "#111", "strokeWidth": 1.1, "strokeDash": [7, 5]},
     "encoding": {
      "x": {"field": "x", "type": "quantitative", "scale": {"domain": [1.31, 1.3461], "nice": false, "zero": false}, "axis": {"orient": "top", "values": [1.31, 1.32, 1.33, 1.34], "labels": false, "title": null}},
      "y": {"field": "p", "type": "quantitative", "scale": {"domain": [0, 4860], "reverse": true, "nice": false, "zero": false}, "axis": {"orient": "right", "values": [0, 1000, 2000, 3000, 4000], "labels": false, "title": null}},
      "detail": {"field": "id"}, "order": {"value": null}}},
    {"data": {"name": "p3lab"}, "mark": {"type": "text", "fontSize": 15, "fill": "white", "stroke": "white", "strokeWidth": 4}, "encoding": {"text": {"field": "t"}}},
    {"data": {"name": "p3lab"}, "mark": {"type": "text", "fontSize": 15, "fill": "#111"}, "encoding": {"text": {"field": "t"}}},
    {"data": {"values": [{"x": 1.3151, "p": 800, "t": "0.1"}]}, "layer": [
      {"mark": {"type": "text", "fontSize": 15, "angle": -55, "fill": "white", "stroke": "white", "strokeWidth": 4}, "encoding": {"text": {"field": "t"}}},
      {"mark": {"type": "text", "fontSize": 15, "angle": -55, "fill": "#111"}, "encoding": {"text": {"field": "t"}}}]},
    {"data": {"values": [{"x": 1.3299, "p": 800, "t": "0.1"}]}, "layer": [
      {"mark": {"type": "text", "fontSize": 15, "angle": -45, "fill": "white", "stroke": "white", "strokeWidth": 4}, "encoding": {"text": {"field": "t"}}},
      {"mark": {"type": "text", "fontSize": 15, "angle": -45, "fill": "#111"}, "encoding": {"text": {"field": "t"}}}]},
    {"data": {"values": [{"x": 1.3383, "p": 1820, "t": "0.04"}]}, "layer": [
      {"mark": {"type": "text", "fontSize": 15, "angle": 10, "fill": "white", "stroke": "white", "strokeWidth": 4}, "encoding": {"text": {"field": "t"}}},
      {"mark": {"type": "text", "fontSize": 15, "angle": 10, "fill": "#111"}, "encoding": {"text": {"field": "t"}}}]}
   ]},
  {"width": 440, "height": 301, "title": "GoodHope region: RMS scatter [ psu ]", "data": {"name": "p4"},
   "resolve": {"axis": {"x": "independent", "y": "independent"}},
   "encoding": {
    "x": {"field": "x", "type": "quantitative", "scale": {"domain": [1.31, 1.3461], "nice": false, "zero": false}, "axis": null},
    "y": {"field": "p", "type": "quantitative", "scale": {"domain": [0, 4860], "reverse": true, "nice": false, "zero": false}, "axis": null}
   },
   "layer": [
    {"transform": [{"filter": "datum.lev < 0.1"}], "mark": {"type": "line", "color": "#333", "strokeWidth": 1.2, "strokeDash": [1, 4]},
     "encoding": {
      "x": {"field": "x", "type": "quantitative", "scale": {"domain": [1.31, 1.3461], "nice": false, "zero": false}, "axis": {"orient": "bottom", "values": [1.31, 1.32, 1.33, 1.34], "format": ".2f", "title": "Round−trip acoustic travel time at 1000 dbar [ s ]", "titlePadding": 4}},
      "y": {"field": "p", "type": "quantitative", "scale": {"domain": [0, 4860], "reverse": true, "nice": false, "zero": false}, "axis": {"orient": "left", "values": [0, 1000, 2000, 3000, 4000], "labels": false, "title": null}},
      "detail": {"field": "id"}, "order": {"value": null}}},
    {"transform": [{"filter": "datum.lev >= 0.1"}], "mark": {"type": "line", "color": "#111", "strokeWidth": 1.1, "strokeDash": [7, 5]},
     "encoding": {
      "x": {"field": "x", "type": "quantitative", "scale": {"domain": [1.31, 1.3461], "nice": false, "zero": false}, "axis": {"orient": "top", "values": [1.31, 1.32, 1.33, 1.34], "labels": false, "title": null}},
      "y": {"field": "p", "type": "quantitative", "scale": {"domain": [0, 4860], "reverse": true, "nice": false, "zero": false}, "axis": {"orient": "right", "values": [0, 1000, 2000, 3000, 4000], "labels": false, "title": null}},
      "detail": {"field": "id"}, "order": {"value": null}}},
    {"data": {"name": "p4lab"}, "mark": {"type": "text", "fontSize": 15, "fill": "white", "stroke": "white", "strokeWidth": 4}, "encoding": {"text": {"field": "t"}}},
    {"data": {"name": "p4lab"}, "mark": {"type": "text", "fontSize": 15, "fill": "#111"}, "encoding": {"text": {"field": "t"}}},
    {"data": {"values": [{"x": 1.3197, "p": 317, "t": "0.06"}]}, "layer": [
      {"mark": {"type": "text", "fontSize": 15, "angle": 38, "fill": "white", "stroke": "white", "strokeWidth": 4}, "encoding": {"text": {"field": "t"}}},
      {"mark": {"type": "text", "fontSize": 15, "angle": 38, "fill": "#111"}, "encoding": {"text": {"field": "t"}}}]},
    {"data": {"values": [{"x": 1.3333, "p": 3350, "t": "0.02"}]}, "layer": [
      {"mark": {"type": "text", "fontSize": 15, "angle": -52, "fill": "white", "stroke": "white", "strokeWidth": 4}, "encoding": {"text": {"field": "t"}}},
      {"mark": {"type": "text", "fontSize": 15, "angle": -52, "fill": "#111"}, "encoding": {"text": {"field": "t"}}}]}
   ]}
 ], "spacing": 27, "bounds": "flush"}
]
}
